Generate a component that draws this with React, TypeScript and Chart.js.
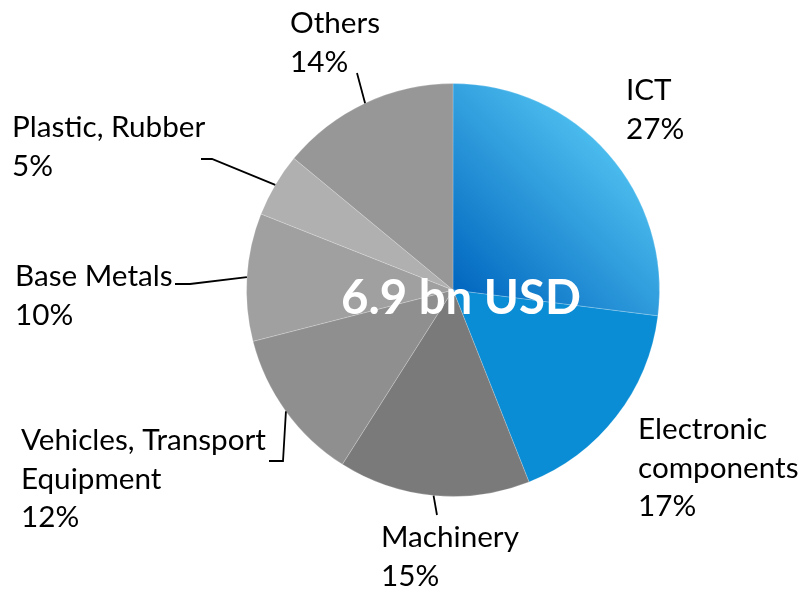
import React, { useEffect, useRef } from "react";
import { Chart, registerables } from "chart.js";

Chart.register(...registerables);

// ---- data ----
const categories = [
  "ICT",
  "Electronic components",
  "Machinery",
  "Vehicles, Transport Equipment",
  "Base Metals",
  "Plastic, Rubber",
  "Others",
];
const shares = [27, 17, 15, 12, 10, 5, 14];
const labelLines = [
  ["ICT"],
  ["Electronic", "components"],
  ["Machinery"],
  ["Vehicles, Transport", "Equipment"],
  ["Base Metals"],
  ["Plastic, Rubber"],
  ["Others"],
];
const totalLabel = "6.9 bn USD";

// ---- styles / layout ----
const sliceColors = ["#1a8fd8", "#0a8dd4", "#7a7a7a", "#8f8f8f", "#a0a0a0", "#b0b0b0", "#979797"];
const FONT = "Lato, 'Noto Sans', sans-serif";
// text anchor (left x, first baseline y) and leader elbow points
const labelLayout = [
  { x: 626, y: 100, leader: [] as number[][] },
  { x: 638, y: 439, leader: [] as number[][] },
  { x: 381, y: 547, leader: [[437, 515]] },
  { x: 21, y: 450, leader: [[283, 461], [269, 461]] },
  { x: 15, y: 286, leader: [[190, 284], [175, 284]] },
  { x: 12, y: 137, leader: [[212, 159], [201, 159]] },
  { x: 290, y: 33, leader: [[357, 73]] },
];
const LINE_H = 38.5;

function fitFont(ctx: CanvasRenderingContext2D, weight: string, text: string, target: number) {
  ctx.font = `${weight} 100px ${FONT}`;
  const w = ctx.measureText(text).width;
  return (100 * target) / w;
}

const labelPlugin = {
  id: "pieLabels",
  afterDatasetsDraw(chart: any) {
    const ctx: CanvasRenderingContext2D = chart.ctx;
    const meta = chart.getDatasetMeta(0);
    const arcs = meta.data;
    if (!arcs.length) return;
    const a0 = arcs[0].getProps(["x", "y", "outerRadius"], true);
    const cx = a0.x, cy = a0.y;
    ctx.save();
    // leader lines
    ctx.strokeStyle = "#000";
    ctx.lineWidth = 1.8;
    arcs.forEach((arc: any, i: number) => {
      const lay = labelLayout[i];
      if (!lay.leader.length) return;
      const p = arc.getProps(["startAngle", "endAngle", "outerRadius"], true);
      const mid = (p.startAngle + p.endAngle) / 2;
      const ax = cx + Math.cos(mid) * p.outerRadius;
      const ay = cy + Math.sin(mid) * p.outerRadius;
      ctx.beginPath();
      ctx.moveTo(ax, ay);
      lay.leader.forEach((pt) => ctx.lineTo(pt[0], pt[1]));
      ctx.stroke();
    });
    // labels
    const fs = fitFont(ctx, "normal", "Vehicles, Transport", 245);
    ctx.font = `normal ${fs}px ${FONT}`;
    ctx.fillStyle = "#000";
    ctx.textAlign = "left";
    ctx.textBaseline = "alphabetic";
    const total = shares.reduce((s, v) => s + v, 0);
    labelLines.forEach((lines, i) => {
      const lay = labelLayout[i];
      const all = [...lines, `${Math.round((shares[i] / total) * 100)}%`];
      all.forEach((t, k) => ctx.fillText(t, lay.x, lay.y + k * LINE_H));
    });
    // center text
    const cfs = fitFont(ctx, "bold", totalLabel, 240);
    ctx.font = `bold ${cfs}px ${FONT}`;
    ctx.fillStyle = "#fff";
    ctx.textAlign = "center";
    ctx.fillText(totalLabel, cx + 8, cy + 24);
    ctx.restore();
  },
};

export default function App() {
  const ref = useRef<HTMLCanvasElement>(null);
  useEffect(() => {
    if (!ref.current) return;
    const chart = new Chart(ref.current, {
      type: "pie",
      data: {
        labels: categories,
        datasets: [
          {
            data: shares,
            backgroundColor: (c: any) => {
              const i = c.dataIndex;
              if (i === 0) {
                const area = c.chart.chartArea;
                if (!area) return sliceColors[0];
                const x0 = (area.left + area.right) / 2;
                const y0 = (area.top + area.bottom) / 2;
                const r = Math.min(area.width, area.height) / 2;
                const g = c.chart.ctx.createLinearGradient(x0, y0, x0 + r * 0.72, y0 - r * 0.72);
                g.addColorStop(0, "#0066bf");
                g.addColorStop(1, "#4cbdee");
                return g;
              }
              return sliceColors[i];
            },
            borderColor: "rgba(255,255,255,0.2)",
            borderWidth: 1,
          },
        ],
      },
      options: {
        responsive: false,
        animation: false,
        layout: { padding: { top: 83, bottom: 92, left: 246, right: 141 } },
        plugins: { legend: { display: false }, tooltip: { enabled: false } },
      },
      plugins: [labelPlugin],
    });
    return () => chart.destroy();
  }, []);
  return (
    <div style={{ position: "absolute", left: 0, top: 0, width: 801, height: 589, background: "#fff" }}>
      <canvas ref={ref} width={801} height={589} />
    </div>
  );
}
